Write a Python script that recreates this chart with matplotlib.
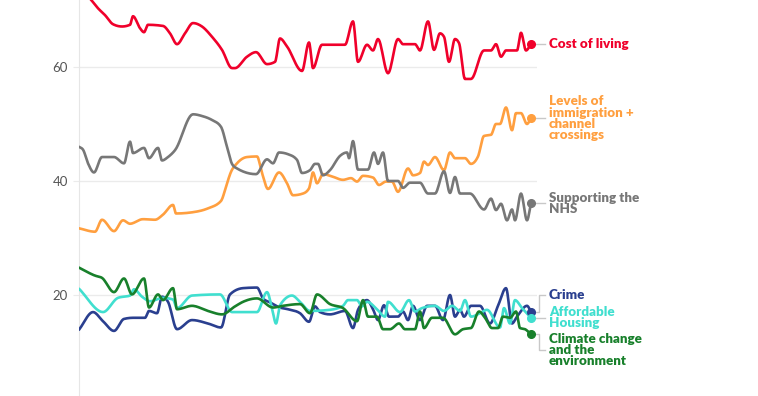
import numpy as np
import matplotlib.pyplot as plt

# time axis: weeks-ish position along the chart (0 = first poll, 452 = latest)
cost_t = [0, 12, 19, 26, 34, 43, 51, 54, 61, 65, 69, 84, 91, 98, 106, 114, 123, 133, 143, 153,
          156, 168, 177, 188, 196, 201, 208, 223, 230, 234, 243, 266, 274, 279, 288, 294, 299,
          309, 319, 324, 336, 341, 349, 355, 361, 365, 370, 376, 380, 386, 392, 405, 412, 417,
          422, 427, 438, 442, 447, 452]
cost_v = [74, 71.8, 70.3, 69.1, 67.5, 67.1, 67.4, 68.9, 66.8, 66.1, 67.4, 67.2, 65.9, 64, 65.9,
          67.7, 67.1, 65.3, 63, 59.8, 59.8, 61.8, 62.6, 60.5, 60.9, 65, 63.6, 59.3, 64.3, 59.8,
          63.9, 63.9, 68, 60.9, 63.9, 62.9, 64.9, 58.9, 64.9, 64, 64, 62.9, 68, 63, 65.9, 65.3,
          60.9, 64.9, 64.2, 57.9, 57.9, 62.9, 62.9, 64, 61.8, 62.9, 62.9, 66, 62.9, 64]

immig_t = [0, 16, 23, 35, 44, 51, 64, 76, 84, 94, 97, 113, 129, 142, 148, 152, 158, 168, 178,
           183, 189, 200, 208, 214, 224, 230, 234, 238, 244, 253, 264, 272, 278, 284, 294, 300,
           307, 313, 319, 329, 334, 341, 345, 349, 356, 365, 371, 376, 386, 392, 399, 405, 412,
           417, 421, 427, 433, 437, 442, 448, 452]
immig_v = [31.7, 31.1, 33.2, 31.2, 33.1, 32.5, 33.3, 33.2, 34.1, 35.8, 34.3, 34.5, 35.2, 36.5,
           39.6, 41.6, 43.1, 44.2, 44.3, 41.4, 38.6, 41.5, 39.6, 37.5, 37.8, 38.7, 41.5, 39.6,
           41.2, 40.8, 40.2, 40.5, 39.9, 40.9, 40.6, 39.3, 39.9, 39.9, 38.1, 42.2, 41.0, 41.4,
           43.4, 42.8, 44.2, 41.9, 45.0, 44.0, 44.0, 43.0, 44.3, 47.9, 48.1, 50.0, 50.0, 52.9,
           48.9, 51.9, 51.9, 50.0, 51.0]

nhs_t = [0, 4, 9, 15, 23, 35, 45, 51, 54, 65, 70, 79, 83, 89, 96, 114, 123, 133, 142, 148, 153,
         158, 177, 188, 194, 200, 209, 218, 223, 231, 236, 239, 244, 251, 261, 268, 270, 274,
         279, 289, 295, 299, 304, 309, 319, 324, 331, 341, 349, 356, 365, 371, 376, 381, 391,
         405, 412, 417, 422, 428, 433, 436, 442, 448, 452]
nhs_v = [46.0, 45.5, 43.1, 41.5, 44.2, 44.2, 43.1, 46.9, 44.9, 45.8, 44.0, 45.8, 43.6, 44.2,
         45.4, 51.7, 51.4, 50.7, 49.5, 46.0, 43.0, 42.2, 41.2, 43.8, 43.1, 45.0, 44.7, 43.7,
         41.4, 41.9, 43.0, 43.0, 41.0, 41.9, 44.4, 45.0, 44.0, 47.0, 42.0, 42.0, 45.0, 43.0,
         45.0, 40.0, 40.0, 38.8, 39.7, 39.7, 37.8, 37.8, 41.7, 37.9, 40.7, 37.8, 37.8, 35.0,
         36.9, 34.9, 36.0, 33.1, 35.0, 33.1, 37.8, 33.1, 36.1]

crime_t = [0, 14, 24, 35, 45, 54, 66, 70, 78, 83, 89, 98, 113, 129, 142, 151, 164, 178, 184,
           191, 201, 209, 221, 230, 236, 241, 251, 266, 274, 279, 288, 294, 299, 305, 310, 319,
           324, 329, 334, 341, 348, 356, 364, 371, 376, 381, 385, 392, 401, 411, 419, 427, 433,
           438, 448, 452]
crime_v = [13.9, 17.0, 15.4, 13.7, 15.8, 16.0, 16.0, 17.2, 16.8, 19.7, 18.8, 14.0, 15.6, 15.0,
           14.3, 20.1, 21.2, 21.3, 19.4, 18.7, 17.8, 17.5, 16.8, 15.3, 18.0, 17.0, 16.6, 17.2,
           14.2, 17.4, 19.1, 17.5, 15.6, 18.2, 16.2, 16.2, 17.1, 15.6, 18.1, 15.6, 18.1, 18.1,
           15.6, 20.0, 16.2, 17.4, 16.2, 18.1, 18.1, 15.0, 18.1, 21.2, 15.0, 16.2, 18.1, 17.1]

housing_t = [0, 24, 39, 51, 55, 63, 71, 84, 94, 98, 113, 141, 153, 178, 188, 193, 197, 201, 213,
             221, 231, 251, 264, 269, 278, 283, 288, 298, 306, 309, 321, 330, 336, 343, 356, 365,
             373, 381, 386, 392, 401, 408, 421, 425, 431, 436, 443, 452]
housing_v = [21.1, 17.0, 19.5, 19.9, 21.0, 19.7, 18.9, 19.5, 19.2, 17.7, 19.9, 20.1, 17.0, 17.0,
             20.5, 17.7, 15.0, 18.2, 19.9, 18.8, 17.2, 17.4, 18.1, 19.1, 19.1, 18.0, 18.8, 17.5,
             16.2, 18.8, 17.0, 19.1, 17.1, 17.7, 18.1, 17.2, 18.1, 17.2, 19.1, 16.2, 16.8, 17.4,
             14.3, 17.7, 15.0, 19.1, 17.7, 16.0]

climate_t = [0, 16, 23, 35, 45, 53, 65, 70, 79, 84, 94, 98, 113, 129, 143, 156, 164, 178, 194,
             204, 221, 231, 238, 251, 264, 278, 284, 289, 298, 304, 311, 320, 326, 336, 341, 345,
             353, 364, 376, 384, 392, 400, 406, 413, 419, 424, 431, 437, 441, 446, 452]
climate_v = [24.8, 23.4, 23.0, 20.5, 22.9, 20.1, 22.9, 17.8, 20.1, 19.1, 21.2, 17.5, 18.1, 17.2,
             16.6, 18.0, 18.8, 19.4, 17.8, 18.1, 18.4, 16.8, 20.1, 18.4, 17.7, 15.4, 19.1, 16.2,
             16.2, 14.0, 14.0, 15.0, 14.0, 14.0, 17.1, 14.2, 16.0, 16.0, 13.1, 14.0, 14.2, 17.1,
             16.0, 14.2, 14.2, 16.2, 16.0, 17.1, 14.2, 14.0, 13.1]

names = ["Cost of living", "Levels of\nimmigration +\nchannel\ncrossings", "Supporting the\nNHS",
         "Crime", "Affordable\nHousing", "Climate change\nand the\nenvironment"]
series_t = [cost_t, immig_t, nhs_t, crime_t, housing_t, climate_t]
series_v = [cost_v, immig_v, nhs_v, crime_v, housing_v, climate_v]
colors = ["#f0002b", "#ff9f3f", "#777777", "#2a3f8f", "#40dfcf", "#18802b"]
# label centre heights (None = at the last value)
label_y = [None, None, None, 20.0, 16.05, 10.35]


def monotone(x, y, n=12):
    x = np.asarray(x, float)
    y = np.asarray(y, float)
    h = np.diff(x)
    s = np.diff(y) / h
    m = np.zeros_like(y)
    m[0], m[-1] = s[0], s[-1]
    for i in range(1, len(y) - 1):
        p = (s[i - 1] * h[i] + s[i] * h[i - 1]) / (h[i - 1] + h[i])
        m[i] = (np.sign(s[i - 1]) + np.sign(s[i])) * min(abs(s[i - 1]), abs(s[i]), 0.5 * abs(p))
    xs, ys = [], []
    for i in range(len(h)):
        u = np.linspace(0, 1, n, endpoint=False)
        h00 = 2 * u**3 - 3 * u**2 + 1
        h10 = u**3 - 2 * u**2 + u
        h01 = -2 * u**3 + 3 * u**2
        h11 = u**3 - u**2
        xs.append(x[i] + u * h[i])
        ys.append(h00 * y[i] + h10 * h[i] * m[i] + h01 * y[i + 1] + h11 * h[i] * m[i + 1])
    xs.append([x[-1]])
    ys.append([y[-1]])
    return np.concatenate(xs), np.concatenate(ys)


plt.rcParams['font.family'] = ['Lato', 'DejaVu Sans']
fig = plt.figure(figsize=(7.58, 3.96), dpi=100)
ax = fig.add_axes([79 / 758, 0, 458 / 758, 1])
ax.set_xlim(0, 458)
ax.set_ylim(2.28, 71.75)

for t, v, c in zip(series_t, series_v, colors):
    xs, ys = monotone(t, v)
    ax.plot(xs, ys, color=c, lw=1.9, solid_capstyle='round', zorder=3)
    ax.plot(t[-1], v[-1], 'o', color=c, ms=5.5, zorder=4)

for name, t, v, c, ly in zip(names, series_t, series_v, colors, label_y):
    x0, y0 = t[-1], v[-1]
    if ly is None:
        ax.plot([x0 + 4, x0 + 14], [y0, y0], color="#c8c8c8", lw=1, clip_on=False)
        ly = y0
    else:
        ax.plot([x0 + 4, x0 + 8, x0 + 8, x0 + 14], [y0, y0, ly, ly], color="#c8c8c8",
                lw=1, clip_on=False)
    ax.text(x0 + 18, ly, name, color=c, fontsize=9.6, fontweight='heavy', ha='left',
            va='center', linespacing=0.92, clip_on=False)

ax.set_yticks([20, 40, 60])
ax.set_xticks([])
ax.grid(axis='y', color="#ebebeb", lw=1)
ax.set_axisbelow(True)
for side in ['top', 'right', 'bottom']:
    ax.spines[side].set_visible(False)
ax.spines['left'].set_color("#e6e6e6")
ax.tick_params(axis='y', length=4, color="#ebebeb", pad=4, labelsize=9.5, labelcolor="#555555")

fig.savefig("out.png", dpi=100)
